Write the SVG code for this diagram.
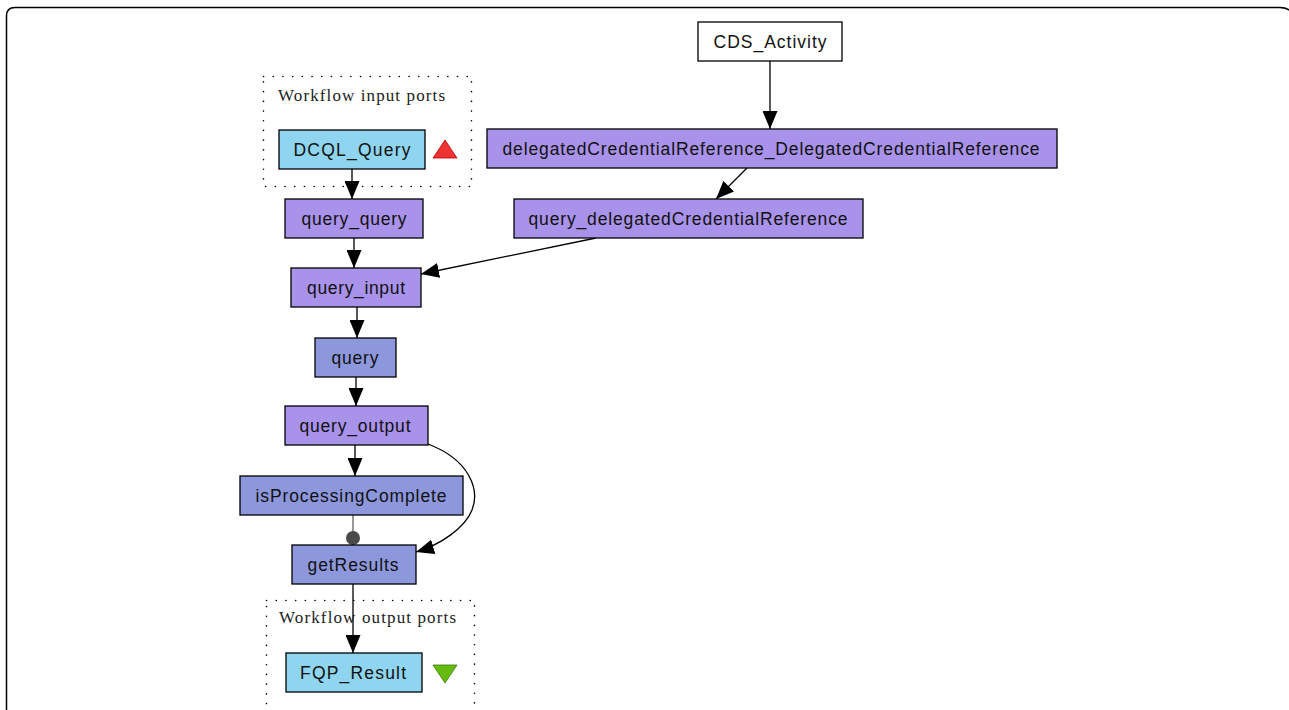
<svg xmlns="http://www.w3.org/2000/svg" width="1289" height="710" viewBox="0 0 1289 710">
<style>
.frame{fill:none;stroke:#000;stroke-width:1.5}
.n rect{stroke:#000;stroke-width:1.3}
.p rect{fill:#a992ea}
.b rect{fill:#8d97dc}
.c rect{fill:#8fd5ef}
.w rect{fill:#fff}
.n text{font-family:"Liberation Sans",Arial,sans-serif;font-size:17.5px;text-anchor:middle;fill:#111}
.cl{fill:none;stroke:#000;stroke-width:1.6;stroke-dasharray:0.1 9.6;stroke-linecap:round}
.cl-t{font-family:"Liberation Serif","Times New Roman",serif;font-size:17px;fill:#222}
.e{fill:none;stroke:#000;stroke-width:1.3}
</style>
<defs>
<marker id="ah" viewBox="0 0 18 15" refX="18" refY="7.5" markerWidth="18" markerHeight="15" markerUnits="userSpaceOnUse" orient="auto">
<path d="M0,0 L18,7.5 L0,15 z" fill="#000"/>
</marker>
</defs>
<rect width="1289" height="710" fill="#fff"/>
<path class="frame" d="M6.5,740 V16 Q6.5,7.5 15,7.5 H1280 Q1289,7.5 1293,14"/>

<g id="cluster-inputs">
<rect class="cl" x="263.5" y="76.5" width="208" height="110"/>
<text class="cl-t" x="278" y="101" textLength="167">Workflow input ports</text>
<polygon points="445,140 457,158 433,158" fill="#ee3333" stroke="#b00" stroke-width="0.8"/>
</g>
<g id="cluster-outputs">
<rect class="cl" x="266.5" y="600.5" width="208" height="120"/>
<text class="cl-t" x="279" y="623" textLength="177">Workflow output ports</text>
<polygon points="433,665 457,665 445,683" fill="#66bb11" stroke="#3a7a00" stroke-width="0.8"/>
</g>

<g id="connectors">
<line class="e" x1="770" y1="61" x2="770" y2="129" marker-end="url(#ah)"/>
<line class="e" x1="747" y1="168" x2="716" y2="199" marker-end="url(#ah)"/>
<line class="e" x1="596" y1="238" x2="421" y2="274" marker-end="url(#ah)"/>
<line class="e" x1="352" y1="169" x2="352" y2="199" marker-end="url(#ah)"/>
<line class="e" x1="354" y1="238" x2="354" y2="268" marker-end="url(#ah)"/>
<line class="e" x1="357" y1="307" x2="357" y2="338" marker-end="url(#ah)"/>
<line class="e" x1="356" y1="377" x2="356" y2="406" marker-end="url(#ah)"/>
<line class="e" x1="355" y1="445" x2="355" y2="476" marker-end="url(#ah)"/>
<line x1="353" y1="515" x2="353" y2="537" stroke="#555" stroke-width="1.2"/>
<circle cx="353" cy="538" r="7" fill="#4a4a4a"/>
<path class="e" d="M428,444 C470,460 480,490 472,510 C465,528 440,545 416,552" marker-end="url(#ah)"/>
<line class="e" x1="353" y1="584" x2="353" y2="653" marker-end="url(#ah)"/>
</g>

<g id="CDS_Activity" class="n w"><rect x="698" y="22" width="144" height="39"/><text x="770" y="47.5" textLength="113">CDS_Activity</text></g>
<g id="delegatedCredentialReference_DelegatedCredentialReference" class="n p"><rect x="487" y="129" width="570" height="39"/><text x="771" y="154.5" textLength="537">delegatedCredentialReference_DelegatedCredentialReference</text></g>
<g id="query_delegatedCredentialReference" class="n p"><rect x="514" y="199" width="349" height="39"/><text x="688" y="224.5" textLength="319">query_delegatedCredentialReference</text></g>
<g id="DCQL_Query" class="n c"><rect x="279" y="130" width="146" height="39"/><text x="352" y="155.5" textLength="117">DCQL_Query</text></g>
<g id="query_query" class="n p"><rect x="285" y="199" width="138" height="39"/><text x="354" y="224.5" textLength="105">query_query</text></g>
<g id="query_input" class="n p"><rect x="291" y="268" width="130" height="39"/><text x="356" y="293.5" textLength="98">query_input</text></g>
<g id="query" class="n b"><rect x="315" y="338" width="81" height="39"/><text x="355" y="363.5" textLength="47">query</text></g>
<g id="query_output" class="n p"><rect x="285" y="406" width="143" height="39"/><text x="355" y="431.5" textLength="111">query_output</text></g>
<g id="isProcessingComplete" class="n b"><rect x="240" y="476" width="223" height="39"/><text x="351" y="501.5" textLength="191">isProcessingComplete</text></g>
<g id="getResults" class="n b"><rect x="292" y="545" width="124" height="39"/><text x="353" y="570.5" textLength="91">getResults</text></g>
<g id="FQP_Result" class="n c"><rect x="286" y="653" width="136" height="39"/><text x="353" y="678.5" textLength="106">FQP_Result</text></g>
</svg>
